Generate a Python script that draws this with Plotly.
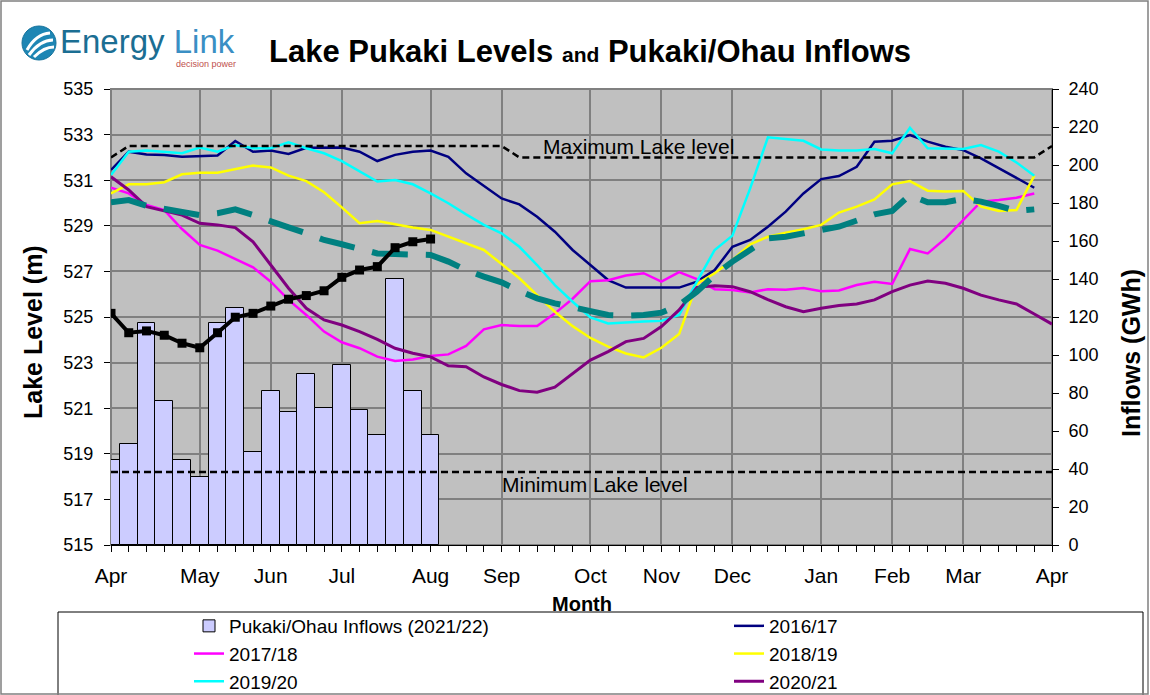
import plotly.graph_objects as go

# ---------------- data ----------------
month_weeks = [0, 5, 9, 13, 18, 22, 27, 31, 35, 40, 44, 48, 53]
month_labels = ["Apr", "May", "Jun", "Jul", "Aug", "Sep", "Oct", "Nov", "Dec", "Jan", "Feb", "Mar", "Apr"]

weeks_full = list(range(54))          # week index from 1 April

inflow_weeks = list(range(19))
inflows_2021_22 = [45, 53, 117, 76, 45, 36, 117, 125, 49, 81, 70, 90, 72, 95, 71, 58, 140, 81, 58]

level_2021_22 = [525.16, 524.31, 524.39, 524.20, 523.85, 523.65, 524.31, 524.99, 525.16, 525.48,
                 525.78, 525.94, 526.15, 526.74, 527.06, 527.21, 528.04, 528.30, 528.42]

level_average = [530.03, 530.13, 529.88, 529.74, 529.59, 529.47, 529.55, 529.72, 529.47, 529.18,
                 528.93, 528.67, 528.38, 528.19, 527.98, 527.79, 527.76, 527.76, 527.72, 527.43,
                 527.06, 526.77, 526.52, 526.14, 525.82, 525.60, 525.41, 525.23, 525.09, 525.06,
                 525.09, 525.19, 525.53, 526.11, 526.84, 527.43, 527.94, 528.45, 528.52, 528.70,
                 528.82, 528.96, 529.21, 529.50, 529.65, 530.35, 530.03, 530.03, 530.18, 530.06,
                 529.87, 529.65, 529.72]

level_2016_17 = [531.45, 532.25, 532.13, 532.11, 532.03, 532.06, 532.08, 532.72, 532.25, 532.30,
                 532.15, 532.42, 532.43, 532.43, 532.25, 531.84, 532.11, 532.25, 532.30, 532.03,
                 531.30, 530.75, 530.20, 529.94, 529.40, 528.74, 527.94, 527.28, 526.62, 526.29,
                 526.30, 526.31, 526.29, 526.55, 527.06, 528.08, 528.38, 528.96, 529.62, 530.42,
                 531.05, 531.18, 531.59, 532.69, 532.73, 532.98, 532.69, 532.47, 532.32, 531.96,
                 531.52, 531.08, 530.67]

level_2017_18 = [530.67, 530.42, 529.91, 529.69, 528.86, 528.16, 527.91, 527.54, 527.18, 526.55,
                 525.75, 525.09, 524.36, 523.89, 523.63, 523.26, 523.07, 523.14, 523.29, 523.36,
                 523.73, 524.46, 524.65, 524.60, 524.60, 525.16, 525.80, 526.57, 526.61, 526.82,
                 526.92, 526.55, 526.97, 526.66, 526.22, 526.18, 526.08, 526.22, 526.20, 526.27,
                 526.13, 526.16, 526.40, 526.55, 526.45, 527.98, 527.79, 528.45, 529.25, 530.06,
                 530.13, 530.23, 530.42]

level_2018_19 = [530.42, 530.82, 530.82, 530.91, 531.26, 531.33, 531.33, 531.48, 531.64, 531.56,
                 531.20, 530.96, 530.47, 529.81, 529.11, 529.21, 529.06, 528.93, 528.82, 528.52,
                 528.23, 527.94, 527.32, 526.70, 525.96, 525.23, 524.60, 524.08, 523.70, 523.40,
                 523.23, 523.65, 524.25, 526.45, 526.92, 527.50, 528.19, 528.52, 528.70, 528.85,
                 529.04, 529.58, 529.84, 530.16, 530.82, 530.96, 530.54, 530.50, 530.53, 529.84,
                 529.65, 529.69, 531.20]

level_2019_20 = [531.23, 532.25, 532.30, 532.25, 532.18, 532.43, 532.25, 532.54, 532.40, 532.40,
                 532.66, 532.40, 532.18, 531.84, 531.40, 530.94, 531.01, 530.82, 530.42, 529.99,
                 529.50, 529.04, 528.67, 528.08, 527.28, 526.40, 525.67, 524.98, 524.72, 524.77,
                 524.80, 524.83, 525.09, 526.55, 527.94, 528.57, 530.64, 532.88, 532.81, 532.73,
                 532.35, 532.30, 532.30, 532.37, 532.18, 533.30, 532.40, 532.37, 532.37, 532.54,
                 532.25, 531.78, 531.20]

level_2020_21 = [531.15, 530.57, 529.84, 529.65, 529.47, 529.11, 529.04, 528.92, 528.30, 527.28,
                 526.26, 525.38, 524.87, 524.65, 524.36, 524.02, 523.63, 523.41, 523.25, 522.86,
                 522.82, 522.37, 522.04, 521.77, 521.70, 521.92, 522.50, 523.11, 523.48, 523.92,
                 524.06, 524.58, 525.31, 526.30, 526.37, 526.33, 526.11, 525.76, 525.45, 525.23,
                 525.38, 525.50, 525.57, 525.75, 526.11, 526.40, 526.58, 526.48, 526.26, 525.96,
                 525.75, 525.57, 525.13, 524.69]

max_level_weeks = [0, 1, 22, 23, 52, 53]
max_level = [532.0, 532.5, 532.5, 532.0, 532.0, 532.5]
min_level_weeks = [0, 53]
min_level = [518.2, 518.2]

# ---------------- layout helpers (pixel -> paper) ----------------
W, H = 1150, 695
PL, PR, PT, PB = 111, 1052, 89, 545


def px(x):
    return (x - PL) / (PR - PL)


def py(y):
    return (PB - y) / (PB - PT)


FONT = "Liberation Sans, Arial, sans-serif"

fig = go.Figure()

fig.add_trace(go.Bar(
    x=inflow_weeks, y=inflows_2021_22, width=1, yaxis="y", legend="legend",
    name="Pukaki/Ohau Inflows (2021/22)",
    marker=dict(color="#CCCCFF", line=dict(color="black", width=1)),
))

fig.add_trace(go.Scatter(x=weeks_full[:len(level_2016_17)], y=level_2016_17, yaxis="y2", mode="lines",
                         name="2016/17", legend="legend2", line=dict(color="#000080", width=2.5)))
fig.add_trace(go.Scatter(x=weeks_full[:len(level_2017_18)], y=level_2017_18, yaxis="y2", mode="lines",
                         name="2017/18", legend="legend", line=dict(color="#FF00FF", width=2.5)))
fig.add_trace(go.Scatter(x=weeks_full[:len(level_2018_19)], y=level_2018_19, yaxis="y2", mode="lines",
                         name="2018/19", legend="legend2", line=dict(color="#FFFF00", width=2.5)))
fig.add_trace(go.Scatter(x=weeks_full[:len(level_2019_20)], y=level_2019_20, yaxis="y2", mode="lines",
                         name="2019/20", legend="legend", line=dict(color="#00FFFF", width=2.5)))
fig.add_trace(go.Scatter(x=weeks_full[:len(level_2020_21)], y=level_2020_21, yaxis="y2", mode="lines",
                         name="2020/21", legend="legend2", line=dict(color="#800080", width=3)))
fig.add_trace(go.Scatter(x=weeks_full[:len(level_average)], y=level_average, yaxis="y2", mode="lines",
                         name="Average", showlegend=False,
                         line=dict(color="#008080", width=6, dash="36px,18px")))
fig.add_trace(go.Scatter(x=max_level_weeks, y=max_level, yaxis="y2", mode="lines",
                         name="Maximum Lake level", showlegend=False,
                         line=dict(color="black", width=2.5, dash="7px,4px")))
fig.add_trace(go.Scatter(x=min_level_weeks, y=min_level, yaxis="y2", mode="lines",
                         name="Minimum Lake level", showlegend=False,
                         line=dict(color="black", width=2.5, dash="7px,4px")))
fig.add_trace(go.Scatter(x=inflow_weeks, y=level_2021_22, yaxis="y2", mode="lines+markers",
                         name="2021/22", showlegend=False,
                         line=dict(color="black", width=4),
                         marker=dict(symbol="square", size=9, color="black")))

shapes = []
# darker gridlines
for lv in [533, 529, 525, 521]:
    shapes.append(dict(type="line", xref="paper", yref="y2", x0=0, x1=1, y0=lv, y1=lv,
                       line=dict(color="black", width=1.2), layer="between"))
# plot border
shapes.append(dict(type="rect", xref="paper", yref="paper", x0=0, x1=1, y0=0, y1=1,
                   line=dict(color="#808080", width=2), layer="between"))
# legend box
shapes.append(dict(type="rect", xref="paper", yref="paper", x0=px(58), x1=px(1143), y0=py(699), y1=py(612),
                   line=dict(color="black", width=1), layer="above"))
# outer chart border
shapes.append(dict(type="rect", xref="paper", yref="paper", x0=px(1), x1=px(1148), y0=py(694), y1=py(1),
                   line=dict(color="#808080", width=1.5), layer="above"))
# logo icon
shapes.append(dict(type="circle", xref="paper", yref="paper", x0=px(22), x1=px(56), y0=py(60), y1=py(26),
                   fillcolor="#1E86B4", line=dict(color="#17739C", width=1), layer="above"))


def pth(points):
    s = "M %f %f" % (px(points[0][0]), py(points[0][1]))
    s += " Q %f %f %f %f" % (px(points[1][0]), py(points[1][1]), px(points[2][0]), py(points[2][1]))
    return s


for pts in [[(27, 50), (36, 34), (50, 33)], [(29, 55), (40, 40), (53, 40)], [(34, 57), (44, 47), (54, 47)]]:
    shapes.append(dict(type="path", xref="paper", yref="paper", path=pth(pts),
                       line=dict(color="white", width=3), layer="above"))

annotations = [
    dict(x=px(590), y=py(52), xref="paper", yref="paper", showarrow=False, xanchor="center", yanchor="middle",
         text="<b>Lake Pukaki Levels <span style='font-size:21px'>and</span> Pukaki/Ohau Inflows</b>",
         font=dict(size=31, color="black", family=FONT)),
    dict(x=px(58), y=py(42), xref="paper", yref="paper", showarrow=False, xanchor="left", yanchor="middle",
         text="<span style='color:#1B6E93'>Energy</span> <span style='color:#3A8FC4'>Link</span>",
         font=dict(size=33, family=FONT)),
    dict(x=px(238), y=py(64), xref="paper", yref="paper", showarrow=False, xanchor="right", yanchor="middle",
         text="decision power", font=dict(size=9, color="#C0504D", family=FONT)),
    dict(x=px(33), y=py(332), xref="paper", yref="paper", showarrow=False, textangle=-90,
         xanchor="center", yanchor="middle", text="<b>Lake Level (m)</b>",
         font=dict(size=25, color="black", family=FONT)),
    dict(x=px(1131), y=py(353), xref="paper", yref="paper", showarrow=False, textangle=-90,
         xanchor="center", yanchor="middle", text="<b>Inflows (GWh)</b>",
         font=dict(size=25, color="black", family=FONT)),
    dict(x=px(582), y=py(604), xref="paper", yref="paper", showarrow=False,
         xanchor="center", yanchor="middle", text="<b>Month</b>",
         font=dict(size=20, color="black", family=FONT)),
    dict(x=px(638), y=py(146), xref="paper", yref="paper", showarrow=False,
         xanchor="center", yanchor="middle", text="Maximum Lake level",
         font=dict(size=21, color="black", family=FONT)),
    dict(x=px(595), y=py(484), xref="paper", yref="paper", showarrow=False,
         xanchor="center", yanchor="middle", text="Minimum Lake level",
         font=dict(size=21, color="black", family=FONT)),
]

legend_common = dict(orientation="v", xref="container", yref="container",
                     xanchor="left", yanchor="top", bgcolor="rgba(0,0,0,0)", borderwidth=0,
                     font=dict(size=19, family=FONT), traceorder="normal")

fig.update_layout(
    width=W, height=H, autosize=False,
    margin=dict(l=PL, r=W - PR, t=PT, b=H - PB, pad=0, autoexpand=False),
    paper_bgcolor="white", plot_bgcolor="#C0C0C0",
    font=dict(family=FONT, color="black", size=18),
    showlegend=True,
    legend=dict(x=189 / W, y=1 - 607 / H, **legend_common),
    legend2=dict(x=729 / W, y=1 - 607 / H, **legend_common),
    bargap=0,
    xaxis=dict(range=[0, 53], tickmode="array", tickvals=month_weeks, ticktext=month_labels,
               ticks="outside", ticklen=6, tickwidth=1, tickcolor="black", ticklabelstandoff=6,
               showgrid=True, gridcolor="#808080", gridwidth=2, zeroline=False,
               showline=True, linecolor="black", linewidth=1, automargin=False,
               minor=dict(dtick=1, tick0=0, ticks="outside", ticklen=6, tickcolor="black",
                          tickwidth=1, showgrid=False),
               tickfont=dict(size=21)),
    yaxis=dict(range=[0, 240], dtick=20, tick0=0, side="right", ticks="outside", ticklen=6,
               tickcolor="black", showgrid=False, zeroline=False, showline=True, automargin=False,
               linecolor="black", linewidth=1, tickfont=dict(size=18), ticklabelstandoff=6),
    yaxis2=dict(range=[515, 535], dtick=2, tick0=515, side="left", overlaying="y", ticks="outside",
                ticklen=6, tickcolor="black", showgrid=True, gridcolor="#808080", gridwidth=2,
                zeroline=False, showline=False, automargin=False, tickfont=dict(size=18),
                ticklabelstandoff=7),
    shapes=shapes,
    annotations=annotations,
)

fig.write_html("out.html", config={"displayModeBar": False},
               post_script="document.body.style.margin='0';")
